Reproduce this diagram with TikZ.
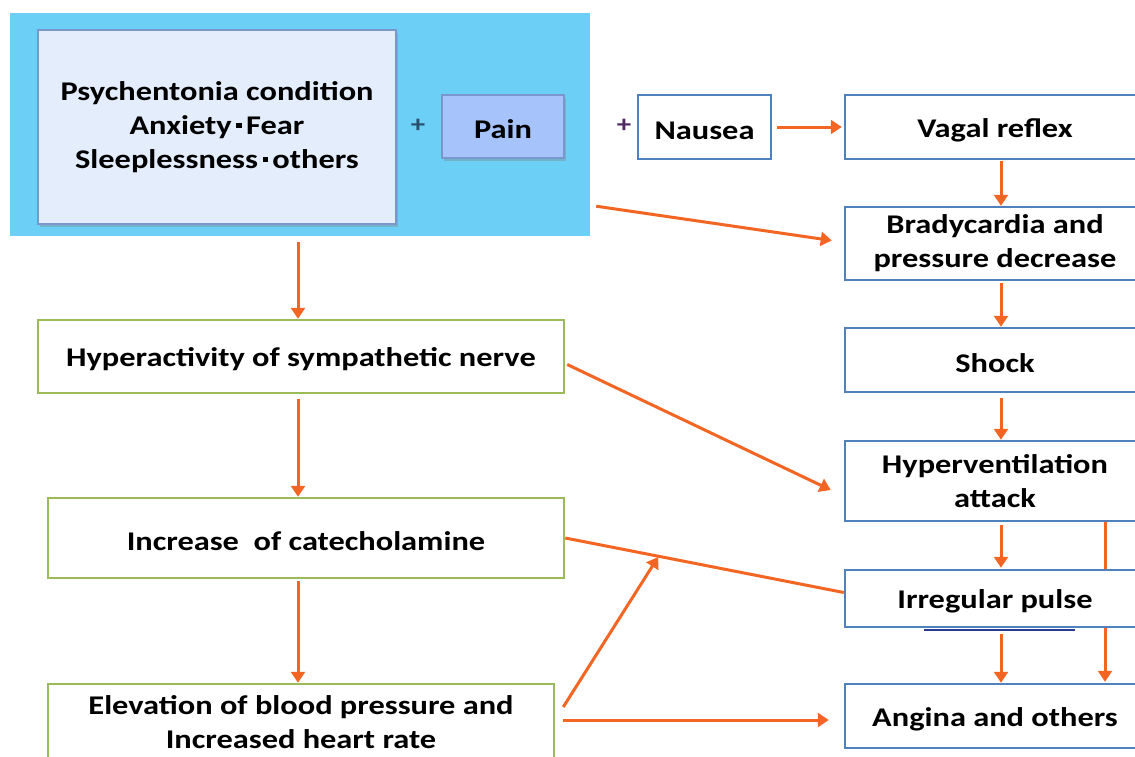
\documentclass[tikz,border=0pt]{standalone}
\usepackage{fontspec}
\setmainfont{Carlito}[FakeStretch=1.2]
\usetikzlibrary{arrows.meta,shadows}
\definecolor{bgblue}{RGB}{108,207,245}
\definecolor{bigfill}{RGB}{227,237,252}
\definecolor{bigdraw}{RGB}{122,150,204}
\definecolor{painfill}{RGB}{166,196,251}
\definecolor{boxblue}{RGB}{79,129,189}
\definecolor{boxgreen}{RGB}{155,187,89}
\definecolor{arrorange}{RGB}{243,101,35}
\definecolor{darkline}{RGB}{40,60,150}
\definecolor{plusa}{RGB}{40,80,110}
\definecolor{plusb}{RGB}{80,40,100}
\newcommand{\sqsep}{\,\raisebox{0.22em}{\rule{0.2em}{0.2em}}\,}
\tikzset{
  txt/.style={font=\fontsize{27}{34}\selectfont\bfseries, align=center, inner sep=0pt, text=black,
    execute at begin node={\rule{0pt}{25pt}}},
  bluebox/.style={txt, draw=boxblue, line width=2.5pt, fill=white, minimum width=300pt},
  greenbox/.style={txt, draw=boxgreen, line width=2.5pt, fill=white},
  arr/.style={draw=arrorange, line width=3pt, -{Triangle[length=11pt,width=14pt]}},
  ln/.style={draw=arrorange, line width=3pt},
  plus/.style={font=\fontsize{24}{24}\selectfont\bfseries, inner sep=0pt},
}
\begin{document}
\begin{tikzpicture}[x=1pt,y=-1pt]
\useasboundingbox (0,0) rectangle (1135,756);
\clip (0,0) rectangle (1135,756);
% top-left block
\node[fill=bgblue, minimum width=580pt, minimum height=223pt, inner sep=0pt] (bg) at (300,124.5) {};
\node[txt, fill=bigfill, draw=bigdraw, line width=1.5pt, minimum width=358pt, minimum height=194pt,
  drop shadow={shadow xshift=2pt, shadow yshift=-3pt, opacity=0.35}] (big) at (217,127)
  {Psychentonia condition\\Anxiety\sqsep Fear\\Sleeplessness\sqsep others};
\node[txt, fill=painfill, draw=bigdraw, line width=1.5pt, minimum width=122pt, minimum height=63pt,
  drop shadow={shadow xshift=2pt, shadow yshift=-3pt, opacity=0.35}] (pain) at (503,126.5) {Pain};
\node[plus, text=plusa] (plus1) at (418,126) {+};
\node[plus, text=plusb] (plus2) at (624,126) {+};
\node[txt, draw=boxblue, line width=2.5pt, fill=white, minimum width=133pt, minimum height=64pt] (nau) at (704.5,127) {Nausea};
% right column
\node[bluebox, minimum height=64pt] (vag) at (995,127) {Vagal reflex};
\node[bluebox, minimum height=73pt] (bra) at (995,243.5) {Bradycardia and\\pressure decrease};
\node[bluebox, minimum height=64pt] (sho) at (995,360) {Shock};
\node[bluebox, minimum height=80pt] (hv) at (995,481) {Hyperventilation\\attack};
\node[bluebox, minimum height=57pt] (irr) at (995,598.5) {Irregular pulse};
\node[bluebox, minimum height=64pt] (ang) at (995,716) {Angina and others};
% left column
\node[greenbox, minimum width=526pt, minimum height=73pt] (hyp) at (301,356.5) {Hyperactivity of sympathetic nerve};
\node[greenbox, minimum width=516pt, minimum height=80pt] (inc) at (306,538) {Increase\ \ of catecholamine};
\node[greenbox, minimum width=506pt, minimum height=76pt] (ele) at (301,722) {Elevation of blood pressure and\\Increased heart rate};
% connectors
\draw[arr] ([shift={(-2,6)}]bg.south) -- ([shift={(-2,0)}]bg.south |- hyp.north);
\draw[arr] ([shift={(-3,5)}]hyp.south) -- ([shift={(-3,0)}]hyp.south |- inc.north);
\draw[arr] ([shift={(-8,2)}]inc.south) -- ([shift={(-8,0)}]inc.south |- ele.north);
\draw[arr] ([shift={(5,0)}]nau.east) -- ([shift={(-2,0)}]vag.west);
\draw[arr] ([shift={(6,1)}]vag.south) -- ([shift={(6,0)}]bra.north);
\draw[arr] ([shift={(6,2)}]bra.south) -- ([shift={(6,0)}]sho.north);
\draw[arr] ([shift={(6,5)}]sho.south) -- ([shift={(6,0)}]hv.north);
\draw[arr] ([shift={(6,3)}]hv.south) -- ([shift={(6,-1)}]irr.north);
\draw[ln] ([shift={(110,0)}]hv.south) -- ([shift={(110,0)}]irr.north);
\draw[arr] ([shift={(6,6)}]irr.south) -- ([shift={(6,0)}]ang.north);
\draw[arr] ([shift={(110,0)}]irr.south) -- ([shift={(110,-1)}]ang.north);
\draw[draw=darkline, line width=2pt] ([shift={(-71,2)}]irr.south) -- ([shift={(80,2)}]irr.south);
\draw[arr] ([shift={(6,-30)}]bg.south east) -- ([shift={(-12,-3)}]bra.west);
\draw[arr] ([shift={(2,8)}]hyp.east) -- ([shift={(-13,9)}]hv.west);
\draw[ln] (inc.east) -- ([shift={(0,-6)}]irr.west) coordinate[pos=0.33] (meet);
\draw[arr] ([shift={(8,-15)}]ele.east) -- ([shift={(1,1)}]meet);
\draw[arr] ([shift={(8,-2)}]ele.east) -- ([shift={(-15,4)}]ang.west);
\end{tikzpicture}
\end{document}
